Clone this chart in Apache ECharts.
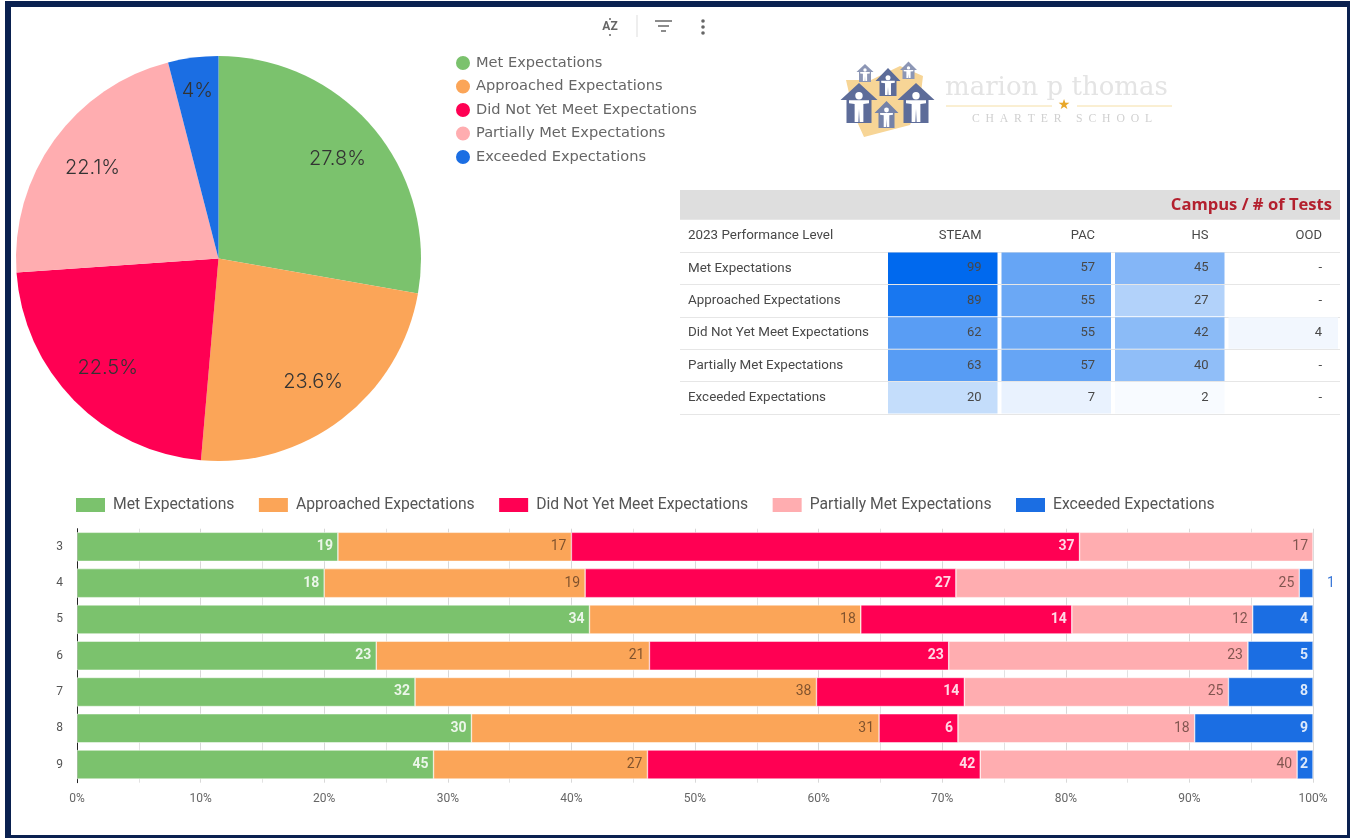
<!DOCTYPE html>
<html>
<head>
<meta charset="utf-8">
<style>html,body{margin:0;padding:0;background:#fff}#c{width:1350px;height:838px}</style>
<script src="https://cdn.jsdelivr.net/npm/echarts@6/dist/echarts.min.js"></script>
</head>
<body>
<div id="c"></div>
<script>
const levels = ['Met Expectations','Approached Expectations','Did Not Yet Meet Expectations','Partially Met Expectations','Exceeded Expectations'];
const colors = ['#7BC26D','#FBA558','#FF0053','#FFADB0','#1B6EE3'];
const grades = ['3','4','5','6','7','8','9'];
const metByGrade = [19,18,34,23,32,30,45];
const approachedByGrade = [17,19,18,21,38,31,27];
const notYetByGrade = [37,27,14,23,14,6,42];
const partialByGrade = [17,25,12,23,25,18,40];
const exceededByGrade = [null,1,4,5,8,9,2];
const pctTicks = [0,10,20,30,40,50,60,70,80,90,100];
const pieCounts = [201,171,163,160,29];
const tableHeaderLabel = '2023 Performance Level';
const campuses = ['STEAM','PAC','HS','OOD'];
const steamTests = [99,89,62,63,20];
const pacTests = [57,55,55,57,7];
const hsTests = [45,27,42,40,2];
const oodTests = [null,null,4,null,null];

const F = 'Roboto, sans-serif';
const byGrade = [metByGrade,approachedByGrade,notYetByGrade,partialByGrade,exceededByGrade];
const totals = grades.map((g,i)=>byGrade.reduce((s,a)=>s+(a[i]||0),0));
const labelStyles = [
  {color:'rgba(255,255,255,.85)',fontWeight:'bold'},
  {color:'rgba(50,30,20,.62)',fontWeight:'normal'},
  {color:'rgba(255,255,255,.85)',fontWeight:'bold'},
  {color:'rgba(50,30,20,.62)',fontWeight:'normal'},
  {color:'rgba(255,255,255,.85)',fontWeight:'bold'}
];
const barSeries = levels.map((name,s)=>({
  type:'bar',name,stack:'grades',xAxisIndex:0,yAxisIndex:0,barCategoryGap:'20%',
  itemStyle:{color:colors[s],borderColor:'#fff',borderWidth:0.5},
  label:{show:true,position:'insideRight',distance:5,fontFamily:F,fontSize:14,...labelStyles[s],
    formatter:p=>byGrade[s][p.dataIndex]},
  data:byGrade[s].map((v,i)=>{
    if(v===null) return null;
    const d={value:100*v/totals[i]};
    if(v===1) d.label={position:'right',distance:14,color:'#3b78d8',fontWeight:'normal'};
    return d;
  })
}));

// table
const tableCols=[steamTests,pacTests,hsTests,oodTests];
const rowCats=[tableHeaderLabel,...levels];
const cells=[];
campuses.forEach((c,ci)=>{
  cells.push({pos:[ci,0],text:c,val:null});
  tableCols[ci].forEach((v,ri)=>cells.push({pos:[ci,ri+1],text:v===null?'-':String(v),val:v}));
});
function heat(v){const t=Math.pow(v/99,0.92),m=(a,b)=>Math.round(a+(b-a)*t);return `rgb(${m(255,0)},${m(255,105)},${m(255,238)})`;}
const tableSeries={
  type:'custom',xAxisIndex:2,yAxisIndex:2,encode:{x:0,y:1},silent:true,
  data:cells.map(c=>c.pos),
  renderItem(params,api){
    const c=cells[params.dataIndex];
    const pt=api.coord(c.pos),w=api.size([1,0])[0],h=api.size([0,1])[1];
    const kids=[];
    if(c.val!==null) kids.push({type:'rect',shape:{x:pt[0]-w/2+2,y:pt[1]-h/2+0.5,width:w-4,height:h-1},style:{fill:heat(c.val)}});
    kids.push({type:'text',style:{x:pt[0]+w/2-18,y:pt[1],text:c.text,textAlign:'right',textVerticalAlign:'middle',font:'13px '+F,fill:'#484848'}});
    return {type:'group',children:kids};
  }
};

// decoration: frame, toolbar, table band, logo
function house(cx,top,rw,roofH,bw,bodyBottom,col){
  const hr=rw*0.2, py=top+roofH*0.75;
  return [
   {type:'polygon',shape:{points:[[cx,top],[cx+rw,top+roofH],[cx+bw,top+roofH],[cx+bw,bodyBottom],[cx-bw,bodyBottom],[cx-bw,top+roofH],[cx-rw,top+roofH]]},style:{fill:col}},
   {type:'circle',shape:{cx,cy:py,r:hr},style:{fill:'#fff'}},
   {type:'polygon',shape:{points:[[cx-bw*.8,py+hr*1.2],[cx+bw*.8,py+hr*1.2],[cx+bw*.8,py+hr*2],[cx+bw*.35,py+hr*2.2],[cx+bw*.35,bodyBottom-1],[cx+bw*.05,bodyBottom-1],[cx,py+hr*3.6],[cx-bw*.05,bodyBottom-1],[cx-bw*.35,bodyBottom-1],[cx-bw*.35,py+hr*2.2],[cx-bw*.8,py+hr*2]]},style:{fill:'#fff'}}
  ];
}
const navy='#0A2150';
const deco=[
  {type:'rect',shape:{x:5,y:1,width:1345,height:6},style:{fill:navy}},
  {type:'rect',shape:{x:5,y:1,width:6,height:837},style:{fill:navy}},
  {type:'rect',shape:{x:1347,y:1,width:3,height:837},style:{fill:navy}},
  {type:'rect',shape:{x:5,y:835,width:1345,height:3},style:{fill:navy}},
  {type:'text',style:{x:610,y:27,text:'AZ',font:'bold 12px '+F,fill:'#666',textAlign:'center',textVerticalAlign:'middle'}},
  {type:'circle',shape:{cx:610,cy:19,r:1},style:{fill:'#666'}},
  {type:'circle',shape:{cx:610,cy:35,r:1},style:{fill:'#666'}},
  {type:'line',shape:{x1:637,y1:15,x2:637,y2:37},style:{stroke:'#ddd',lineWidth:1}},
  {type:'line',shape:{x1:655,y1:21,x2:672,y2:21},style:{stroke:'#666',lineWidth:1.5}},
  {type:'line',shape:{x1:658,y1:26,x2:669,y2:26},style:{stroke:'#666',lineWidth:1.5}},
  {type:'line',shape:{x1:661,y1:31,x2:666,y2:31},style:{stroke:'#666',lineWidth:1.5}},
  {type:'circle',shape:{cx:703,cy:21,r:1.8},style:{fill:'#666'}},
  {type:'circle',shape:{cx:703,cy:27,r:1.8},style:{fill:'#666'}},
  {type:'circle',shape:{cx:703,cy:33,r:1.8},style:{fill:'#666'}},
  {type:'rect',shape:{x:680,y:190,width:660,height:29},style:{fill:'#DEDEDE'}},
  {type:'text',style:{x:1332,y:205,text:'Campus / # of Tests',font:'bold 16.6px "Open Sans", sans-serif',fill:'#B3202E',textAlign:'right',textVerticalAlign:'middle'}},
  // logo
  {type:'polygon',shape:{points:[[846,80],[871,80],[900,66],[923,76],[920,101],[910,125],[864,137],[854,115]]},style:{fill:'#F7D596'}},
  ...house(865,64,8.5,8,6,82,'#8C96B5'),
  ...house(908.5,61.5,8.5,8.5,6,79,'#8C96B5'),
  ...house(888,68,12.5,13,8.5,96,'#5D6C99'),
  ...house(859,83,18.5,17,12.5,123,'#5D6C99'),
  ...house(916,83,18.5,17,12.5,123,'#5D6C99'),
  ...house(886.5,101,12,12,8,128,'#7582A8'),
  {type:'text',style:{x:945,y:88,text:'marion p thomas',font:'26px "DejaVu Serif", serif',fill:'#E4E4E4',textVerticalAlign:'middle'}},
  {type:'line',shape:{x1:946,y1:106,x2:1052,y2:106},style:{stroke:'#F5DFA6',lineWidth:1}},
  {type:'line',shape:{x1:1077,y1:106,x2:1172,y2:106},style:{stroke:'#F5DFA6',lineWidth:1}},
  {type:'text',style:{x:1064,y:105,text:'★',font:'14px "DejaVu Sans"',fill:'#E8A72A',textAlign:'center',textVerticalAlign:'middle'}},
  {type:'text',style:{x:1062,y:119,text:'C  H  A  R  T  E  R     S  C  H  O  O  L',font:'11.7px "Liberation Serif", serif',fill:'#D0D0D0',textAlign:'center',textVerticalAlign:'middle'}}
].map(e=>Object.assign({silent:true,z:-1},e));

const PIE_C=[218.5,258.5];
const chart=echarts.init(document.getElementById('c'),null,{renderer:'canvas'});
chart.setOption({
  animation:false,
  backgroundColor:'#fff',
  textStyle:{fontFamily:F},
  graphic:{elements:deco},
  legend:[
    {data:levels,orient:'vertical',left:449,top:49,icon:'circle',itemWidth:16,itemHeight:16,itemGap:5.5,
     selectedMode:false,textStyle:{fontFamily:'"DejaVu Sans", sans-serif',fontSize:14.6,color:'#666',padding:[0,0,0,0]}},
    {data:levels,left:69,top:491,icon:'rect',itemWidth:31,itemHeight:16,itemGap:22.5,
     selectedMode:false,textStyle:{fontFamily:F,fontSize:15.7,color:'#555',padding:[0,0,0,2]}}
  ],
  grid:[
    {left:77,top:528.7,width:1236,height:254},
    {left:680,top:219.6,width:206,height:194.4},
    {left:886,top:219.6,width:454,height:194.4}
  ],
  xAxis:[
    {gridIndex:0,type:'value',min:0,max:100,interval:10,
     axisLabel:{formatter:v=>pctTicks.includes(v)?v+'%':'',color:'#666',fontSize:12,margin:10,fontFamily:F},
     axisLine:{show:false},axisTick:{show:false},
     splitLine:{show:true,lineStyle:{color:'#d8d8d8'}},
     minorTick:{show:false,splitNumber:2},
     minorSplitLine:{show:true,lineStyle:{color:'#e2e2e2'}}},
    {gridIndex:1,type:'category',show:false,data:['']},
    {gridIndex:2,type:'category',show:false,data:campuses}
  ],
  yAxis:[
    {gridIndex:0,type:'category',data:grades,inverse:true,
     axisLabel:{color:'#555',fontSize:12,margin:14,fontFamily:F},
     axisTick:{show:false},axisLine:{show:true,lineStyle:{color:'#222',width:1}}},
    {gridIndex:1,type:'category',data:rowCats,inverse:true,
     axisLine:{show:false},axisTick:{show:false},
     axisLabel:{inside:true,margin:8,color:'#484848',fontSize:13.4,fontFamily:F},
     splitLine:{show:true,lineStyle:{color:'#e6e6e6'}}},
    {gridIndex:2,type:'category',data:rowCats,inverse:true,
     axisLine:{show:false},axisTick:{show:false},axisLabel:{show:false},
     splitLine:{show:true,lineStyle:{color:'#e6e6e6'}}}
  ],
  series:[
    {type:'pie',center:PIE_C,radius:[0,202.5],startAngle:90,clockwise:true,silent:true,
     data:levels.map((n,i)=>({name:n,value:pieCounts[i],itemStyle:{color:colors[i]}})),
     label:{position:'inside',formatter:p=>{const r=p.percent;return (r===Math.round(r)?r:r.toFixed(1))+'%';},
       fontFamily:'Inter, sans-serif',fontSize:20,fontWeight:300,color:'#333'},
     percentPrecision:1,
     labelLine:{show:false},
     labelLayout(p){
       const r=p.labelRect,cx=r.x+r.width/2,cy=r.y+r.height/2,k=p.dataIndex===4?0.62:0.49;
       return {dx:(cx-PIE_C[0])*k,dy:(cy-PIE_C[1])*k+0.5};
     }},
    ...barSeries,
    tableSeries
  ]
});
</script>
</body>
</html>
